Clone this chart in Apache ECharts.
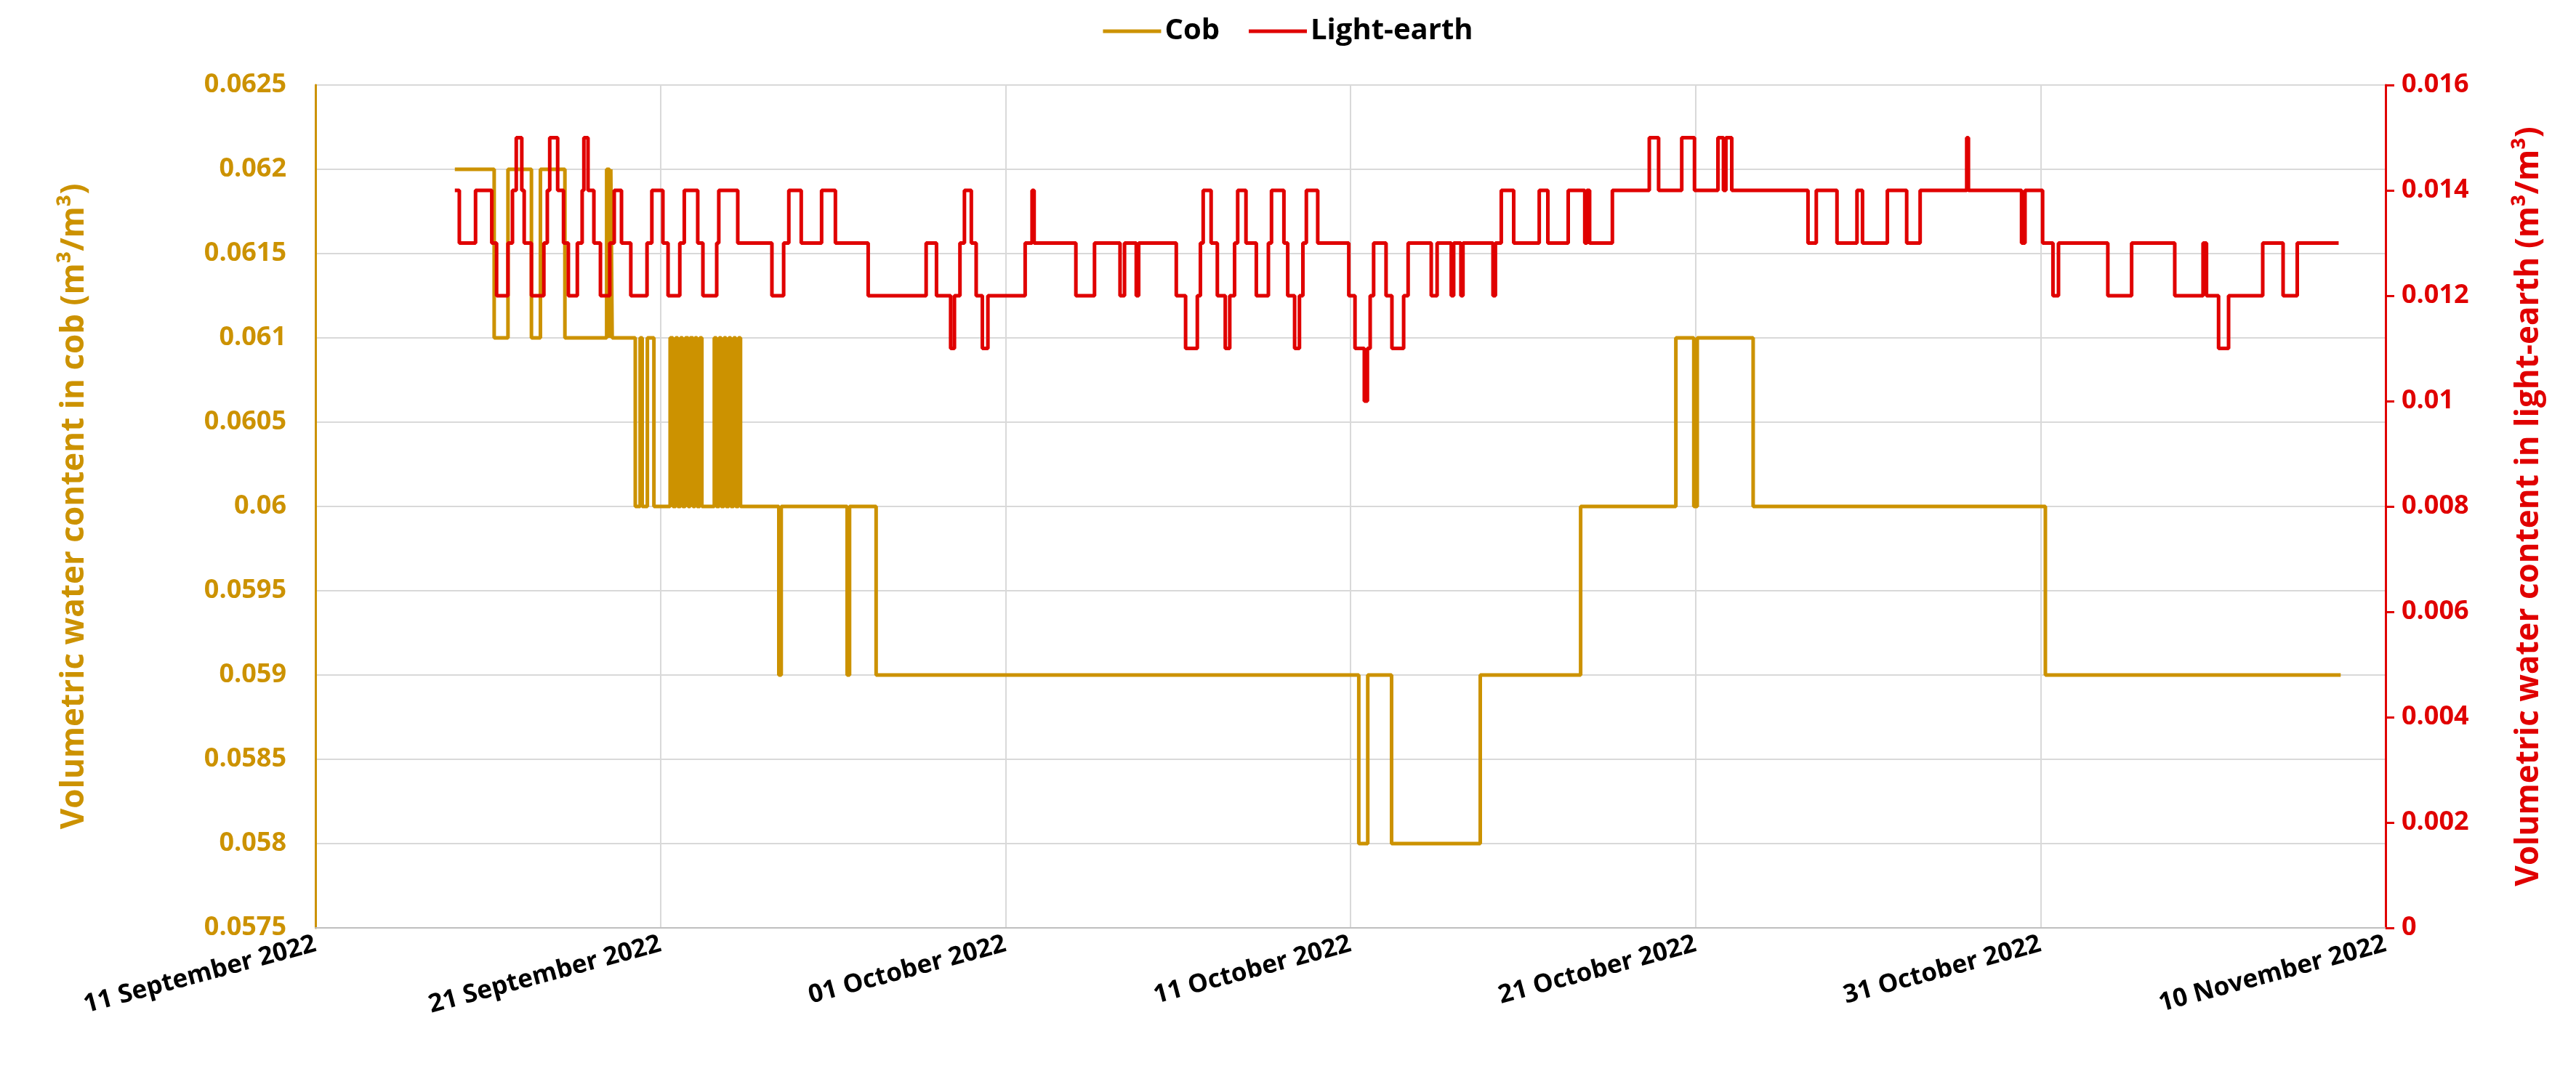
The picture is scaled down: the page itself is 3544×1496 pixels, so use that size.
<!DOCTYPE html>
<html>
<head>
<meta charset="utf-8">
<title>Cob / Light-earth</title>
<script src="https://cdn.jsdelivr.net/npm/echarts@6/dist/echarts.min.js"></script>
<style>
  html, body {margin: 0; padding: 0; background: #fff;}
  #main {width: 3544px; height: 1496px;}
</style>
</head>
<body>
<div id="main"></div>
<script>
// x values are days after 11 September 2022
var tickLabels = ['11 September 2022', '21 September 2022', '01 October 2022', '11 October 2022',
                  '21 October 2022', '31 October 2022', '10 November 2022'];

// cob: change points [day, value]
var cobDays = [4.04, 5.18, 5.58, 6.26, 6.52, 7.23, 8.44, 8.52, 8.56, 8.6, 9.27, 9.41, 9.47, 9.62, 9.81,
  10.28, 10.36, 10.44, 10.5, 10.58, 10.64, 10.72, 10.8, 10.86, 10.94, 11.0, 11.06, 11.14, 11.2, 11.29,
  11.56, 11.62, 11.7, 11.76, 11.84, 11.9, 11.98, 12.04, 12.12, 12.18, 12.26, 12.32, 12.43,
  13.43, 13.5, 15.41, 15.48, 16.25, 30.24, 30.5, 31.19, 33.76, 36.67, 39.43, 39.95, 40.05, 41.67, 50.14, 58.7];
var cobValues = [0.062, 0.061, 0.062, 0.061, 0.062, 0.061, 0.062, 0.061, 0.062, 0.061, 0.060, 0.061, 0.060, 0.061, 0.060,
  0.061, 0.060, 0.061, 0.060, 0.061, 0.060, 0.061, 0.060, 0.061, 0.060, 0.061, 0.060, 0.061, 0.060, 0.060,
  0.061, 0.060, 0.061, 0.060, 0.061, 0.060, 0.061, 0.060, 0.061, 0.060, 0.061, 0.060, 0.060,
  0.059, 0.060, 0.059, 0.060, 0.059, 0.058, 0.059, 0.058, 0.059, 0.060, 0.061, 0.060, 0.061, 0.060, 0.059, 0.059];

// light-earth: change points [day, value]
var earthDays = [4.04, 4.17, 4.64, 5.11, 5.25, 5.58, 5.71, 5.82, 5.98, 6.05, 6.26, 6.62, 6.72, 6.79, 7.02,
  7.19, 7.33, 7.59, 7.73, 7.78, 7.9, 8.07, 8.26, 8.53, 8.66, 8.87, 9.14, 9.61, 9.75, 10.07, 10.22,
  10.56, 10.69, 11.08, 11.23, 11.63, 11.69, 12.24, 13.23, 13.57, 13.72, 14.08, 14.67, 15.07, 16.02,
  17.7, 18.0, 18.41, 18.52, 18.68, 18.81, 19.01, 19.15, 19.33, 19.49, 20.57, 20.77, 20.83, 22.04,
  22.58, 23.32, 23.45, 23.79, 23.86, 24.95, 25.22, 25.56, 25.65, 25.73, 25.96, 26.14, 26.37, 26.5,
  26.64, 26.73, 26.97, 27.27, 27.62, 27.71, 28.07, 28.18, 28.38, 28.52, 28.62, 28.72, 29.05, 29.95,
  30.13, 30.4, 30.49, 30.57, 30.67, 31.03, 31.2, 31.54, 31.67, 32.34, 32.51, 32.92, 32.99, 33.2, 33.26,
  34.13, 34.2, 34.37, 34.73, 35.47, 35.72, 36.31, 36.79, 36.85, 36.93, 37.59, 38.66, 38.93, 39.6,
  39.97, 40.65, 40.81, 40.88, 41.05, 43.26, 43.5, 44.1, 44.68, 44.84, 45.56, 46.12, 46.51, 47.86,
  47.91, 49.45, 49.55, 50.06, 50.36, 50.52, 51.95, 52.64, 53.89, 54.71, 54.81, 55.16, 55.45, 56.44,
  57.03, 57.44, 58.64];
var earthValues = [0.014, 0.013, 0.014, 0.013, 0.012, 0.013, 0.014, 0.015, 0.014, 0.013, 0.012, 0.013, 0.014, 0.015, 0.014,
  0.013, 0.012, 0.013, 0.014, 0.015, 0.014, 0.013, 0.012, 0.013, 0.014, 0.013, 0.012, 0.013, 0.014, 0.013, 0.012,
  0.013, 0.014, 0.013, 0.012, 0.013, 0.014, 0.013, 0.012, 0.013, 0.014, 0.013, 0.014, 0.013, 0.012,
  0.013, 0.012, 0.011, 0.012, 0.013, 0.014, 0.013, 0.012, 0.011, 0.012, 0.013, 0.014, 0.013, 0.012,
  0.013, 0.012, 0.013, 0.012, 0.013, 0.012, 0.011, 0.012, 0.013, 0.014, 0.013, 0.012, 0.011, 0.012,
  0.013, 0.014, 0.013, 0.012, 0.013, 0.014, 0.013, 0.012, 0.011, 0.012, 0.013, 0.014, 0.013, 0.012,
  0.011, 0.010, 0.011, 0.012, 0.013, 0.012, 0.011, 0.012, 0.013, 0.012, 0.013, 0.012, 0.013, 0.012, 0.013,
  0.012, 0.013, 0.014, 0.013, 0.014, 0.013, 0.014, 0.013, 0.014, 0.013, 0.014, 0.015, 0.014, 0.015,
  0.014, 0.015, 0.014, 0.015, 0.014, 0.013, 0.014, 0.013, 0.014, 0.013, 0.014, 0.013, 0.014, 0.015,
  0.014, 0.013, 0.014, 0.013, 0.012, 0.013, 0.012, 0.013, 0.012, 0.013, 0.012, 0.011, 0.012, 0.013,
  0.012, 0.013, 0.013];

var cobColor = '#CC9200';
var earthColor = '#E00000';
var font = 'Open Sans';

function pairs(xs, ys) {
    var out = [];
    for (var i = 0; i < xs.length; i++) out.push([xs[i], ys[i]]);
    return out;
}

var chart = echarts.init(document.getElementById('main'));
chart.setOption({
    animation: false,
    legend: {
        top: 18, left: 'center',
        itemWidth: 80, itemHeight: 5, itemGap: 40,
        textStyle: {fontFamily: font, fontWeight: 'bold', fontSize: 40, color: '#000'},
        data: [{name: 'Cob', icon: 'rect'}, {name: 'Light-earth', icon: 'rect'}]
    },
    grid: {left: 434, right: 262, top: 117, bottom: 219},
    xAxis: {
        type: 'value', min: 0, max: 60, interval: 10,
        axisLine: {show: true, lineStyle: {color: '#bfbfbf', width: 2}},
        axisTick: {show: false},
        splitLine: {show: true, lineStyle: {color: '#d9d9d9', width: 2}},
        axisLabel: {
            rotate: 15, margin: 22,
            fontFamily: font, fontWeight: 'bold', fontSize: 35, color: '#000',
            formatter: function (v) { return tickLabels[Math.round(v / 10)]; }
        }
    },
    yAxis: [
        {
            type: 'value', min: 0.0575, max: 0.0625, interval: 0.0005,
            name: 'Volumetric water content in cob (m³/m³)',
            nameLocation: 'middle', nameGap: 310,
            nameTextStyle: {fontFamily: font, fontWeight: 'bold', fontSize: 44, color: cobColor},
            axisLine: {show: true, lineStyle: {color: cobColor, width: 3}},
            axisTick: {show: false},
            splitLine: {show: true, lineStyle: {color: '#d9d9d9', width: 2}},
            axisLabel: {
                fontFamily: font, fontWeight: 'bold', fontSize: 36, color: cobColor, margin: 40,
                formatter: function (v) { return String(+v.toFixed(4)); }
            }
        },
        {
            type: 'value', min: 0, max: 0.016, interval: 0.002,
            name: 'Volumetric water content in light-earth (m³/m³)',
            nameLocation: 'middle', nameGap: 175, nameRotate: 90,
            nameTextStyle: {fontFamily: font, fontWeight: 'bold', fontSize: 44, color: earthColor},
            axisLine: {show: true, lineStyle: {color: earthColor, width: 3}},
            axisTick: {show: true, length: 12, lineStyle: {color: earthColor, width: 3}},
            splitLine: {show: false},
            axisLabel: {
                fontFamily: font, fontWeight: 'bold', fontSize: 36, color: earthColor, margin: 22,
                formatter: function (v) { return String(+v.toFixed(3)); }
            }
        }
    ],
    series: [
        {
            name: 'Cob', type: 'line', yAxisIndex: 0, step: 'end',
            showSymbol: false, color: cobColor,
            lineStyle: {width: 5, color: cobColor},
            data: pairs(cobDays, cobValues)
        },
        {
            name: 'Light-earth', type: 'line', yAxisIndex: 1, step: 'end',
            showSymbol: false, color: earthColor,
            lineStyle: {width: 5, color: earthColor},
            data: pairs(earthDays, earthValues)
        }
    ]
});
</script>
</body>
</html>
